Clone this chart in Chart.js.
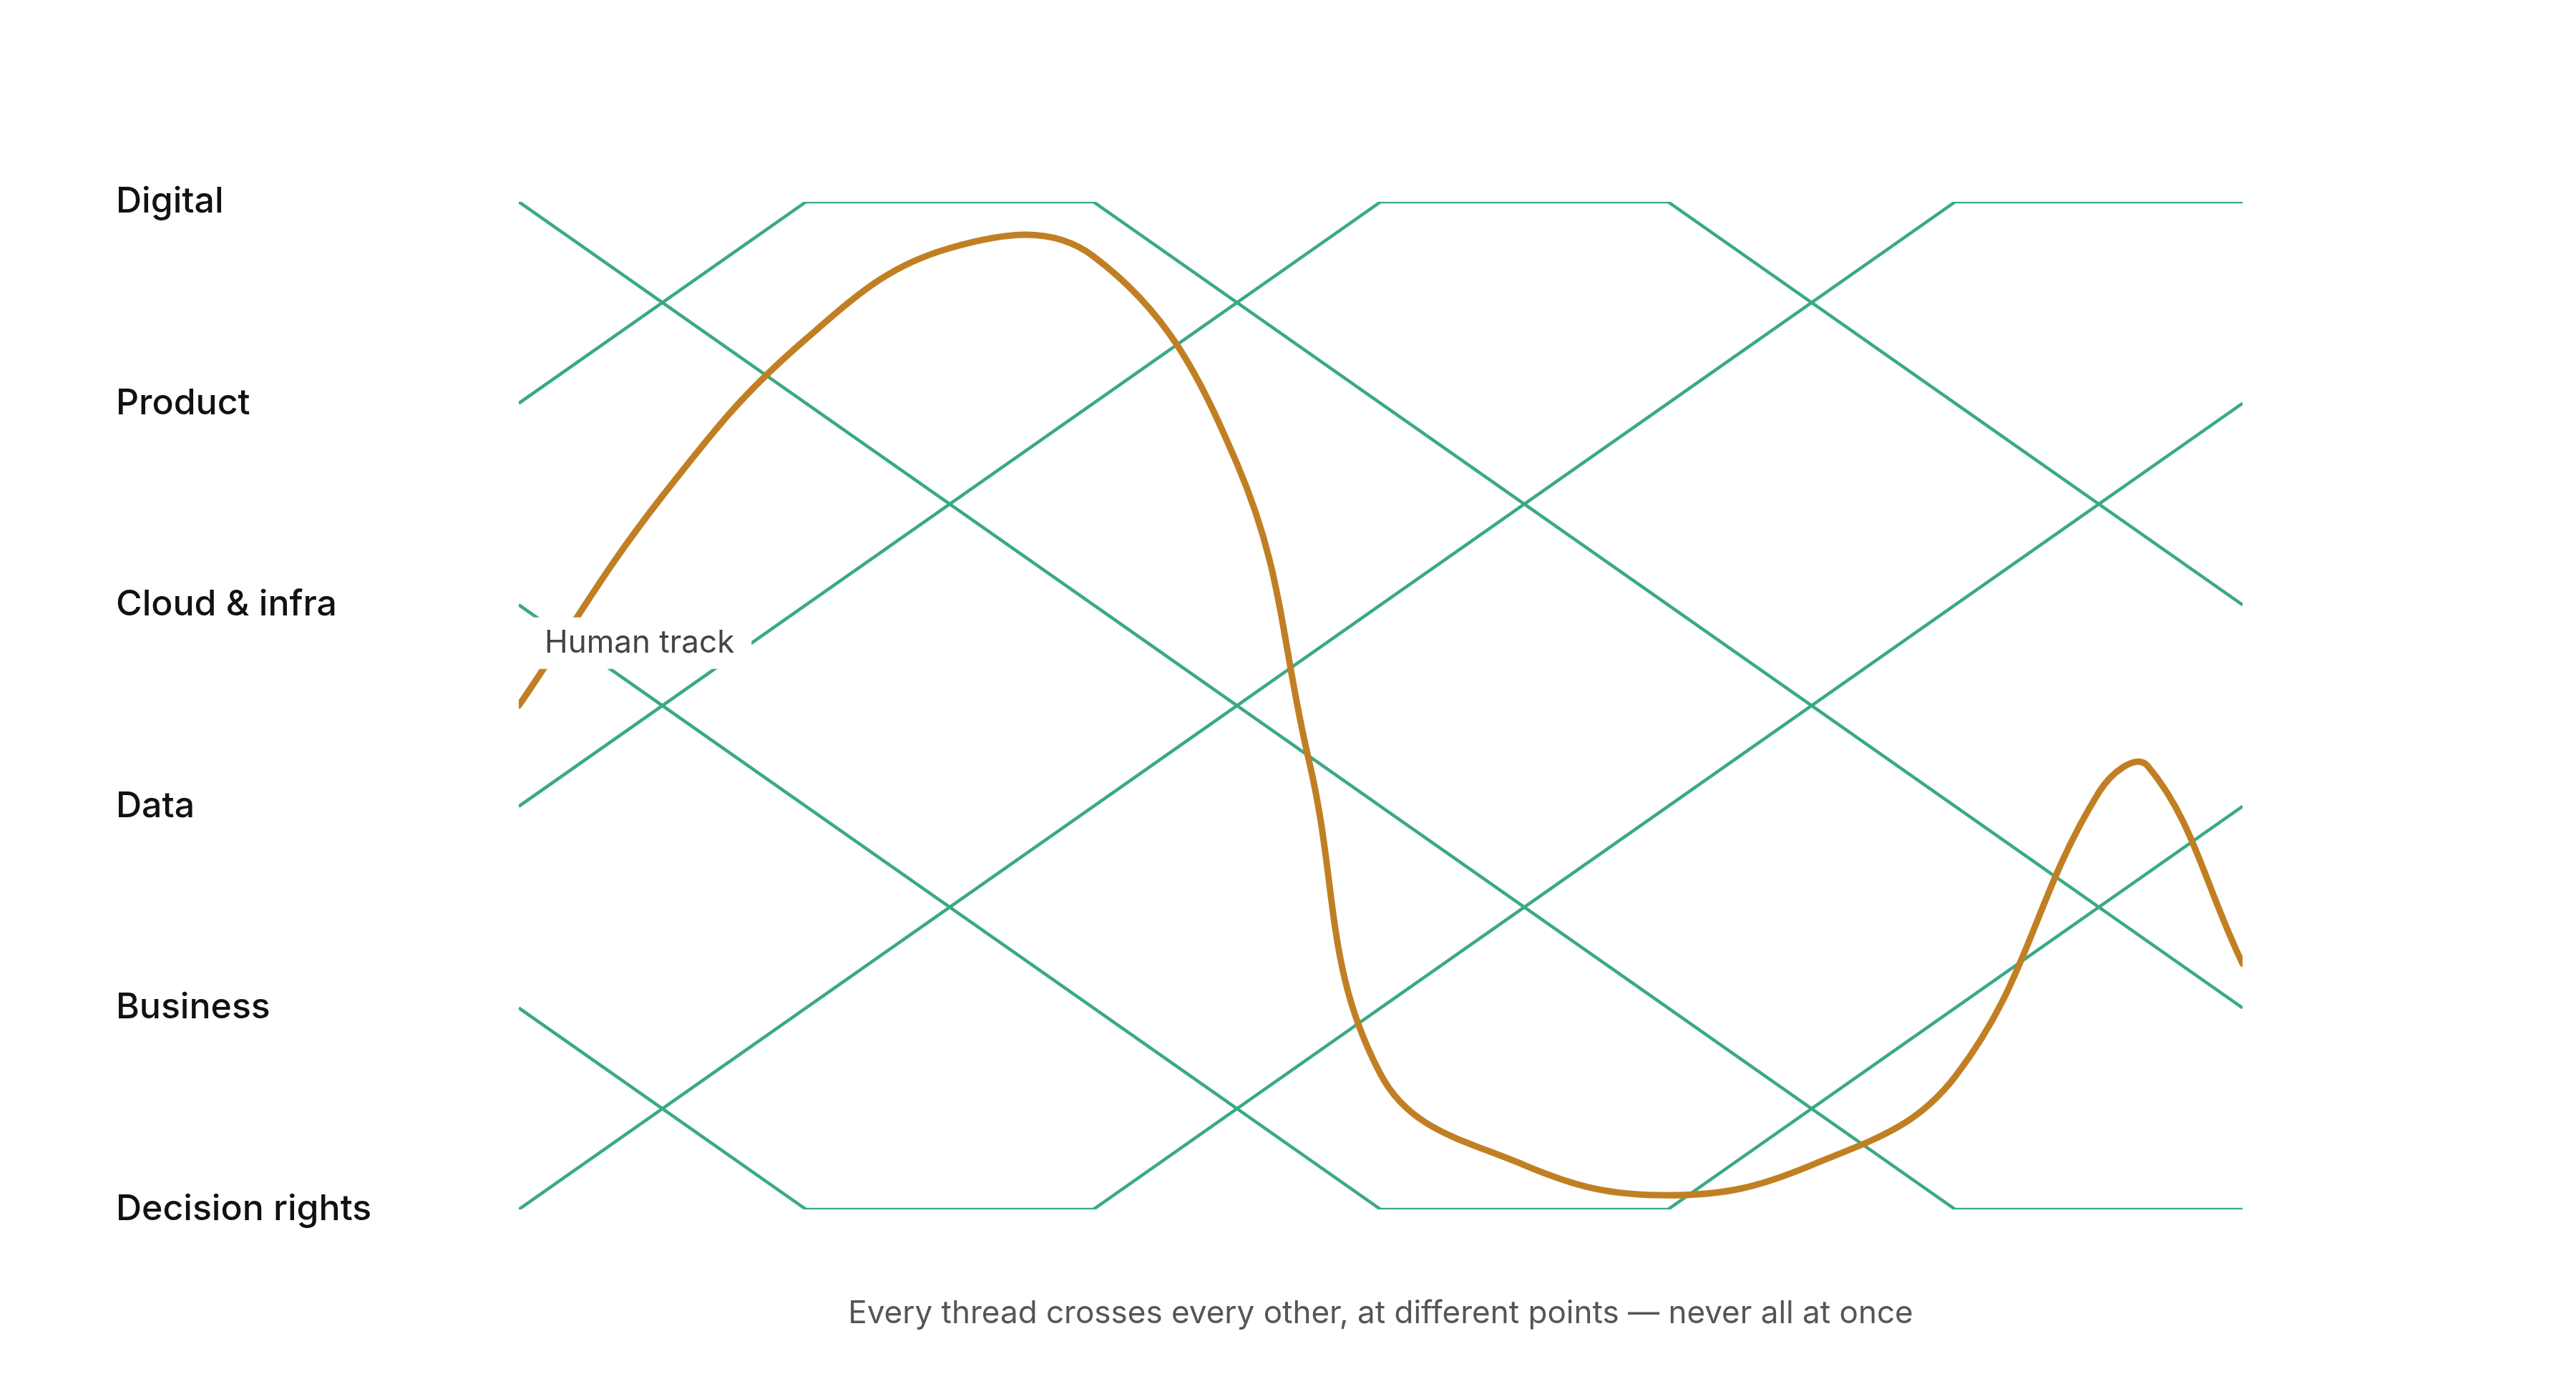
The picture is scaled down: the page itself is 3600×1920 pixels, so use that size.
<!DOCTYPE html>
<html><head><meta charset="utf-8">
<script src="https://cdn.jsdelivr.net/npm/chart.js@4"></script>
<style>html,body{margin:0;padding:0;background:#fff}</style>
</head><body>
<canvas id="c" width="3600" height="1920"></canvas>
<script>
const rowLabels = ["Digital","Product","Cloud & infra","Data","Business","Decision rights"];
const steps = [0,1,2,3,4,5,6];
const threadA = [0,1,2,3,4,5,5];
const threadB = [1,0,0,1,2,3,4];
const threadC = [2,3,4,5,5,4,3];
const threadD = [3,2,1,0,0,1,2];
const threadE = [4,5,5,4,3,2,1];
const threadF = [5,4,3,2,1,0,0];
const humanX = [0,0.5,1,1.5,2,2.5,2.75,3,3.5,4,4.5,5,5.5,5.67,6];
const humanY = [2.5,1.46,0.68,0.23,0.27,1.3,2.77,4.33,4.78,4.93,4.78,4.34,2.93,2.8,3.78];
const caption = "Every thread crosses every other, at different points — never all at once";
const humanLabel = "Human track";

const green = "#3aa986", orange = "#c17f24";
const threads = [threadA,threadB,threadC,threadD,threadE,threadF];
const datasets = [{
  data: humanX.map((x,i)=>({x, y: humanY[i]})),
  borderColor: orange, borderWidth: 9, pointRadius: 0, tension: 0.4, fill:false, order: 0,
  borderCapStyle:'round'
}].concat(threads.map(t=>({
  data: steps.map((x,i)=>({x, y:t[i]})),
  borderColor: green, borderWidth: 4.5, pointRadius: 0, tension: 0, fill:false, order: 1
})));

const labelPlugin = {
  id:'humanLabel',
  afterDatasetsDraw(chart){
    const {ctx, scales:{x,y}} = chart;
    const px = x.getPixelForValue(0.42), py = y.getPixelForValue(2.19);
    ctx.save();
    ctx.font = "44px Inter";
    const w = ctx.measureText(humanLabel).width;
    ctx.fillStyle = "#fff";
    ctx.fillRect(px - w/2 - 24, py - 36, w + 48, 72);
    ctx.fillStyle = "#444";
    ctx.textAlign = "center"; ctx.textBaseline = "middle";
    ctx.fillText(humanLabel, px, py);
    ctx.restore();
  }
};

new Chart(document.getElementById('c'), {
  type:'line',
  data:{datasets},
  plugins:[labelPlugin],
  options:{
    responsive:false, devicePixelRatio:1, animation:false,
    layout:{padding:{left:162,right:466,top:282,bottom:0}},
    plugins:{legend:{display:false},tooltip:{enabled:false}},
    scales:{
      x:{type:'linear',min:0,max:6,grid:{display:false},border:{display:false},
        ticks:{display:false},
        title:{display:true,text:caption,color:"#555",font:{family:"Inter",size:44},padding:{top:0,bottom:58}},
        afterFit(s){s.height=230;}},
      y:{type:'linear',min:0,max:5,reverse:true,grid:{display:false},border:{display:false},
        ticks:{stepSize:1,crossAlign:'far',color:"#111",font:{family:"Inter",size:50,weight:'500'},
          callback:(v)=>rowLabels[v]},
        afterFit(s){s.width=563;}}
    }
  }
});
</script>
</body></html>
